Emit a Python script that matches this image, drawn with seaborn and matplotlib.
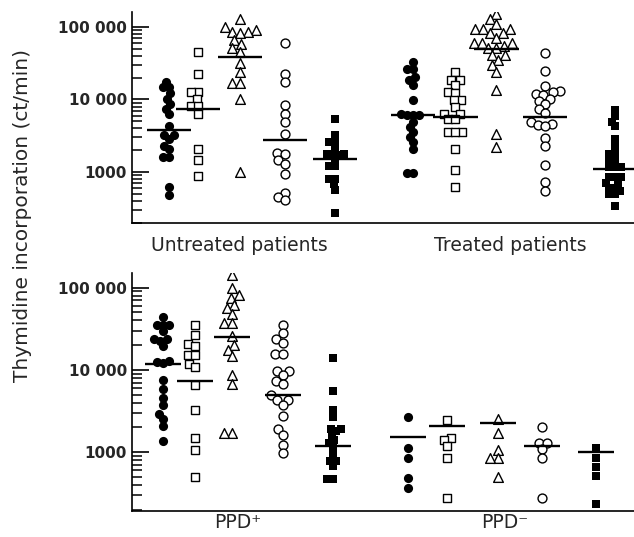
import matplotlib
matplotlib.use("Agg")
import matplotlib.pyplot as plt
import matplotlib.ticker as mticker
import pandas as pd
import seaborn as sns

# ct/min; column order in every group:
# filled circle, open square, open triangle, open circle, filled square
untreated_fcircle = [17500, 14700, 14700, 12100, 10200, 8600, 7500, 6400, 4280, 3210,
                     3210, 2890, 2290, 2090, 1610, 1610, 621, 475]
untreated_osquare = [45600, 22400, 12500, 12500, 10000, 8090, 8090, 6400, 2060, 1480, 880]
untreated_otri = [127600, 98900, 90900, 84400, 84400, 81700, 66100, 58200, 50700, 45600,
                  32100, 24100, 17000, 17000, 10300, 1000]
untreated_ocircle = [60700, 22400, 17500, 8350, 6270, 4910, 3390, 1850, 1790, 1450,
                     1300, 950, 513, 451, 406]
untreated_fsquare = [5350, 3280, 2600, 2600, 2150, 1750, 1750, 1700, 1700, 1450,
                     1210, 1210, 810, 810, 675, 570, 271]

treated_fcircle = [33200, 26000, 26000, 20600, 18500, 15800, 9790, 6400, 6070, 6070,
                   6070, 4910, 4190, 3570, 3050, 2600, 2100, 980, 980]
treated_osquare = [24100, 18500, 18500, 15800, 12800, 12400, 9790, 9790, 7930, 6400,
                   6400, 5460, 5460, 3570, 3570, 3570, 2100, 1080, 621]
treated_otri = [151000, 127600, 110000, 92800, 92800, 92800, 81700, 81700, 69600, 60700,
                60700, 60700, 54600, 50700, 50700, 41000, 41000, 35000, 29800, 24100,
                13700, 3390, 2220]
treated_ocircle = [44200, 24700, 15300, 13200, 12800, 11900, 11500, 10300, 9590, 8620,
                   7350, 6550, 4910, 4650, 4420, 4280, 2990, 2290, 1240, 728, 546]
treated_fsquare = [7130, 5890, 4910, 4280, 2890, 2220, 1790, 1790, 1450, 1450, 1170,
                   1170, 1170, 853, 853, 853, 705, 705, 607, 607, 546, 491, 491, 335]

ppd_pos_fcircle = [43900, 35700, 35700, 35100, 29600, 23500, 23500, 22800, 19500, 12800,
                   12500, 12200, 7630, 5920, 4560, 3780, 2910, 2550, 2110, 1370]
ppd_pos_osquare = [35700, 26500, 20700, 19500, 15400, 15100, 11900, 10800, 6500, 3280,
                   1510, 1070, 495]
ppd_pos_otri = [143000, 98100, 81500, 75500, 61500, 57000, 48200, 37400, 37400, 25800,
                20400, 17700, 14700, 8770, 6750, 1710, 1710]
ppd_pos_ocircle = [35700, 28200, 23500, 21300, 15700, 15700, 9820, 9820, 8770, 7280,
                   6750, 4910, 4350, 4350, 3780, 2720, 1910, 1630, 1230, 970]
ppd_pos_fsquare = [14000, 5500, 3220, 2650, 1930, 1930, 1790, 1600, 1390, 1290, 1150,
                   927, 783, 783, 687, 469, 469]

ppd_neg_fcircle = [2650, 1140, 861, 491, 371]
ppd_neg_osquare = [2480, 1510, 1410, 1190, 861, 280]
ppd_neg_otri = [2550, 1710, 1070, 861, 861, 505]
ppd_neg_ocircle = [2000, 1310, 1310, 1090, 845, 275]
ppd_neg_fsquare = [1140, 845, 668, 519, 232]

# horizontal bars drawn over each column
untreated_bar = [3770, 7430, 38900, 2740, 1510]
treated_bar = [6070, 5750, 49100, 5750, 1090]
ppd_pos_bar = [11800, 7280, 25000, 5000, 1190]
ppd_neg_bar = [1520, 2110, 2260, 1190, 1020]

top_groups = ["Untreated patients", "Treated patients"]
bottom_groups = ["PPD\u207a", "PPD\u207b"]
ytick_values = [1000, 10000, 100000]
ytick_labels = ["1000", "10 000", "100 000"]
minor_ticks = [m * 10 ** e for e in range(2, 6) for m in range(2, 10)]

# swarm is laid out with a smaller marker so columns stay narrow, then the
# markers are shown at full size (the reference lets them overlap a little)
SWARM_SCALE = 0.66
styles = [
    dict(marker="o", color="black", size=6.6, linewidth=0),
    dict(marker="s", color="white", size=5.8, linewidth=1.0),
    dict(marker="^", color="white", size=7.0, linewidth=1.0),
    dict(marker="o", color="white", size=6.4, linewidth=1.0),
    dict(marker="s", color="black", size=6.0, linewidth=0),
]

swarm_sizes = []  # (collection, display size)


def draw_panel(ax, left_cols, right_cols, left_bar, right_bar,
               left_pos, right_pos, bar_half, groups, label_pos, ylim, label_pad):
    ax.set_yscale("log")
    for i, st in enumerate(styles):
        vals = left_cols[i] + right_cols[i]
        xs = [left_pos[i]] * len(left_cols[i]) + [right_pos[i]] * len(right_cols[i])
        df = pd.DataFrame({"x": xs, "y": vals})
        kw = dict(st)
        kw["size"] = st["size"] * SWARM_SCALE
        n_before = len(ax.collections)
        sns.swarmplot(data=df, x="x", y="y", ax=ax, native_scale=True, orient="x",
                      log_scale=(False, True), edgecolor="black", legend=False,
                      warn_thresh=1, **kw)
        for coll in ax.collections[n_before:]:
            swarm_sizes.append((coll, st["size"]))
    for bars, pos in [(left_bar, left_pos), (right_bar, right_pos)]:
        for b, p in zip(bars, pos):
            ax.hlines(b, p - bar_half, p + bar_half, color="black", lw=1.7, zorder=5)

    ax.set_xlim(0, 12)
    ax.set_xticks(label_pos)
    ax.set_xticklabels(groups, fontsize=13.5)
    ax.tick_params(axis="x", length=0, pad=label_pad)
    ax.set_yticks(ytick_values)
    ax.set_yticklabels(ytick_labels, fontsize=11, fontweight="bold")
    ax.set_yticks(minor_ticks, minor=True)
    ax.yaxis.set_minor_formatter(mticker.NullFormatter())
    ax.set_ylim(*ylim)
    ax.tick_params(axis="y", which="major", direction="in", length=12, width=1.2,
                   color="black", left=True)
    ax.tick_params(axis="y", which="minor", direction="in", length=7, width=1.1,
                   color="black", left=True)
    ax.set_xlabel("")
    ax.set_ylabel("")
    for side in ["top", "right"]:
        ax.spines[side].set_visible(False)
    for side in ["left", "bottom"]:
        ax.spines[side].set_linewidth(1.2)
        ax.spines[side].set_color("black")


sns.set_style("ticks")
fig = plt.figure(figsize=(6.34, 5.37), dpi=100)
ax_top = fig.add_axes([0.208, 0.5847, 0.792, 0.393])
ax_bot = fig.add_axes([0.208, 0.0484, 0.792, 0.4432])

draw_panel(ax_top,
           [untreated_fcircle, untreated_osquare, untreated_otri, untreated_ocircle, untreated_fsquare],
           [treated_fcircle, treated_osquare, treated_otri, treated_ocircle, treated_fsquare],
           untreated_bar, treated_bar,
           [0.89, 1.58, 2.58, 3.66, 4.86], [6.72, 7.73, 8.71, 9.88, 11.55],
           0.53, top_groups, [2.58, 9.04], (198, 161000), 9)
draw_panel(ax_bot,
           [ppd_pos_fcircle, ppd_pos_osquare, ppd_pos_otri, ppd_pos_ocircle, ppd_pos_fsquare],
           [ppd_neg_fcircle, ppd_neg_osquare, ppd_neg_otri, ppd_neg_ocircle, ppd_neg_fsquare],
           ppd_pos_bar, ppd_neg_bar,
           [0.74, 1.51, 2.39, 3.61, 4.81], [6.60, 7.54, 8.76, 9.81, 11.1],
           0.43, bottom_groups, [2.54, 8.92], (193, 151000), 1.5)

fig.text(0.035, 0.598, "Thymidine incorporation (ct/min)", rotation=90,
         ha="center", va="center", fontsize=14.5)

# lay out the swarms, then freeze them and enlarge the markers
fig.canvas.draw()
for coll, full in swarm_sizes:
    if "draw" in vars(coll):
        del coll.draw
    coll.set_sizes([full ** 2])

fig.savefig("out.png", dpi=100)
plt.close(fig)
